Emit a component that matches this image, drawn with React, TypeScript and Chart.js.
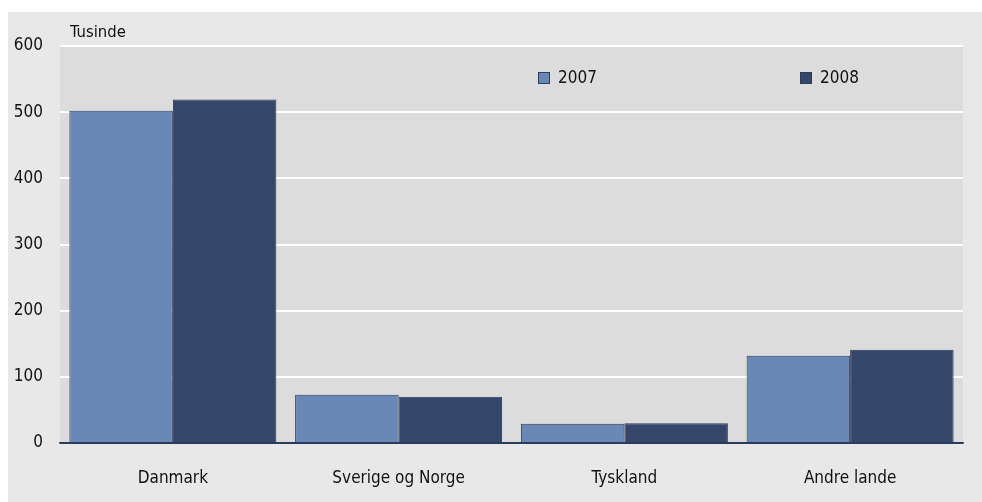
import React, { useEffect, useRef } from "react";
import { Chart, registerables } from "chart.js";

Chart.register(...registerables);

const categories = ["Danmark", "Sverige og Norge", "Tyskland", "Andre lande"];
const series2007 = [502, 73, 29, 132];
const series2008 = [519, 70, 30, 141];
const seriesLabels = ["2007", "2008"];
const yTicks = [0, 100, 200, 300, 400, 500, 600];
const unitLabel = "Tusinde";

const FONT = "'DejaVu Sans Condensed', 'DejaVu Sans', sans-serif";
const COLORS = ["#6a88b6", "#344669"];
const BORDER = "#2a3b5c";

const bgPlugin = {
  id: "plotBg",
  beforeDraw(chart: any) {
    const { ctx, chartArea } = chart;
    ctx.save();
    ctx.fillStyle = "#dcdcdc";
    ctx.fillRect(chartArea.left, chartArea.top, chartArea.right - chartArea.left, chartArea.bottom - chartArea.top);
    ctx.restore();
  },
  afterDraw(chart: any) {
    const { ctx, chartArea } = chart;
    ctx.save();
    ctx.font = `16.5px ${FONT}`;
    ctx.fillStyle = "#111";
    ctx.textBaseline = "middle";
    ctx.textAlign = "left";
    ctx.fillText(unitLabel, chartArea.left + 10, chartArea.top - 13);
    // legend
    const pos = [chartArea.left + 478, chartArea.left + 740];
    chart.data.datasets.forEach((ds: any, i: number) => {
      const x = pos[i];
      const y = chartArea.top + 26;
      ctx.fillStyle = ds.backgroundColor;
      ctx.fillRect(x, y, 12, 12);
      ctx.strokeStyle = BORDER;
      ctx.lineWidth = 1;
      ctx.strokeRect(x + 0.5, y + 0.5, 11, 11);
      ctx.fillStyle = "#111";
      ctx.font = `17px ${FONT}`;
      ctx.fillText(ds.label, x + 20, y + 6.5);
    });
    ctx.restore();
  },
};

export default function App() {
  const ref = useRef<HTMLCanvasElement | null>(null);
  useEffect(() => {
    if (!ref.current) return;
    const chart = new Chart(ref.current, {
      type: "bar",
      data: {
        labels: categories,
        datasets: [
          { label: seriesLabels[0], data: series2007, backgroundColor: COLORS[0], borderColor: BORDER, borderWidth: 1 },
          { label: seriesLabels[1], data: series2008, backgroundColor: COLORS[1], borderColor: BORDER, borderWidth: 1 },
        ],
      },
      options: {
        animation: false,
        responsive: false,
        maintainAspectRatio: false,
        devicePixelRatio: 1,
        layout: { padding: { top: 34, right: 19, left: 0, bottom: 0 } },
        plugins: { legend: { display: false }, tooltip: { enabled: false } },
        datasets: { bar: { categoryPercentage: 0.917, barPercentage: 1.0 } },
        scales: {
          x: {
            grid: { display: false, drawTicks: false },
            border: { display: true, color: BORDER, width: 1.5 },
            ticks: { color: "#111", font: { family: FONT, size: 17 }, padding: 25 },
            afterFit(scale: any) {
              scale.height = 59;
            },
          },
          y: {
            min: 0,
            max: 600,
            afterBuildTicks(scale: any) {
              scale.ticks = yTicks.map((v) => ({ value: v }));
            },
            grid: {
              color: (c: any) => (c.tick && c.tick.value === 0 ? BORDER : "#ffffff"),
              lineWidth: 2,
              drawTicks: false,
            },
            border: { display: false },
            ticks: { color: "#111", font: { family: FONT, size: 17 }, padding: 17 },
            afterFit(scale: any) {
              scale.width = 52;
            },
          },
        },
      },
      plugins: [bgPlugin],
    } as any);
    return () => chart.destroy();
  }, []);
  return (
    <div style={{ position: "absolute", left: 8, top: 12, width: 974, height: 490, background: "#e8e8e8" }}>
      <canvas ref={ref} width={974} height={490} style={{ display: "block", width: 974, height: 490 }} />
    </div>
  );
}
